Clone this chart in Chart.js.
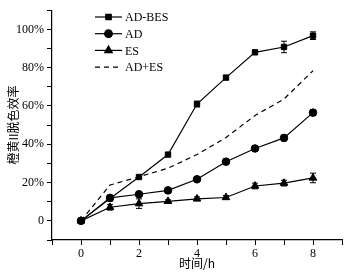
<!DOCTYPE html>
<html>
<head>
<meta charset="utf-8">
<script src="https://cdn.jsdelivr.net/npm/chart.js@4/dist/chart.umd.min.js"></script>
<style>
	html, body { margin: 0; padding: 0; background: #fff; }
	#wrap { width: 349px; height: 273px; }
</style>
</head>
<body>
<div id="wrap"><canvas id="c"></canvas></div>
<script>
const hours = [0, 1, 2, 3, 4, 5, 6, 7, 8];
const adBes = [0, 11.7, 22.9, 34.6, 61, 74.8, 88, 90.8, 96.7];
const adBesErr = [0.8, 0.8, 0.8, 0.8, 1.5, 1, 1, 3, 2];
const ad = [0, 12, 13.9, 15.9, 21.7, 30.9, 37.8, 43.3, 56.5];
const adErr = [0.8, 0.8, 1, 0.8, 1, 1.5, 1.5, 1.5, 1.5];
const es = [0, 7.1, 9, 10.2, 11.5, 12.2, 18.2, 19.7, 22.4];
const esErr = [0.8, 1.5, 2.5, 0.8, 1, 1, 1.5, 1.5, 2.5];
const adPlusEs = [0, 18.7, 23, 27.5, 34.6, 43.5, 55, 63.6, 78.4];
const yLabels = ['0', '20%', '40%', '60%', '80%', '100%'];

const serif = '"Liberation Serif", "Times New Roman", serif';
const cjk = '"Noto Sans CJK SC", sans-serif';

function pts(vals) {
	return hours.map((h, i) => ({ x: h, y: vals[i] }));
}

// error bars drawn through the scales
const errorBars = {
	id: 'errorBars',
	afterDatasetsDraw(chart) {
		const ctx = chart.ctx;
		const xs = chart.scales.x, ys = chart.scales.y;
		ctx.save();
		ctx.strokeStyle = '#000';
		ctx.lineWidth = 1;
		chart.data.datasets.forEach(ds => {
			if (!ds.err) return;
			ds.data.forEach((p, i) => {
				const x = xs.getPixelForValue(p.x);
				const y1 = ys.getPixelForValue(p.y + ds.err[i]);
				const y2 = ys.getPixelForValue(p.y - ds.err[i]);
				ctx.beginPath();
				ctx.moveTo(x, y1); ctx.lineTo(x, y2);
				ctx.moveTo(x - 3, y1); ctx.lineTo(x + 3, y1);
				ctx.moveTo(x - 3, y2); ctx.lineTo(x + 3, y2);
				ctx.stroke();
			});
		});
		ctx.restore();
	}
};

// legend in the upper left of the plot
const insetLegend = {
	id: 'insetLegend',
	afterDraw(chart) {
		const ctx = chart.ctx;
		const x0 = 95, lineLen = 27, rowH = 16.7, top = 17;
		ctx.save();
		ctx.font = '12px ' + serif;
		ctx.textBaseline = 'middle';
		ctx.fillStyle = '#000';
		chart.data.datasets.forEach((ds, i) => {
			const y = top + i * rowH;
			ctx.strokeStyle = '#000';
			ctx.lineWidth = 1.2;
			ctx.setLineDash(ds.borderDash || []);
			ctx.beginPath();
			ctx.moveTo(x0, y); ctx.lineTo(x0 + lineLen, y);
			ctx.stroke();
			ctx.setLineDash([]);
			if (ds.pointRadius > 0) {
				Chart.helpers.drawPoint(ctx, {
					pointStyle: ds.pointStyle, radius: ds.pointRadius, rotation: 0, borderWidth: 1
				}, x0 + lineLen / 2, y);
				ctx.fill();
			}
			ctx.fillText(ds.label, x0 + lineLen + 3, y + 1);
		});
		ctx.restore();
	}
};

function series(label, vals, err, style, r, dash) {
	return {
		label: label,
		data: pts(vals),
		err: err,
		borderColor: '#000',
		backgroundColor: '#000',
		borderWidth: 1.2,
		borderDash: dash,
		pointStyle: style,
		pointRadius: r,
		pointBorderWidth: 1,
		tension: 0
	};
}

new Chart(document.getElementById('c'), {
	type: 'line',
	data: {
		datasets: [
			series('AD-BES', adBes, adBesErr, 'rect', 3.8, []),
			series('AD', ad, adErr, 'circle', 3.8, []),
			series('ES', es, esErr, 'triangle', 4.4, []),
			series('AD+ES', adPlusEs, null, 'circle', 0, [5, 4])
		]
	},
	options: {
		responsive: true,
		maintainAspectRatio: false,
		animation: false,
		layout: { padding: { top: 5, right: 7, left: 0, bottom: 0 } },
		plugins: { legend: { display: false }, tooltip: { enabled: false } },
		scales: {
			x: {
				type: 'linear',
				min: -1, max: 9,
				afterFit: s => { s.height = 33; },
				border: { color: '#000', width: 1.2 },
				grid: { display: true, drawOnChartArea: false, drawTicks: true, tickLength: 5, color: '#000' },
				ticks: {
					stepSize: 1, color: '#000', padding: 2,
					font: { family: serif, size: 12 },
					maxRotation: 0, autoSkip: false,
					callback: v => (v >= 0 && v <= 8 && v % 2 === 0) ? String(v) : ''
				},
				title: {
					display: true, text: '时间/h', color: '#000', padding: { top: 0, bottom: 2 },
					font: { family: cjk, size: 12 }
				}
			},
			y: {
				min: -10, max: 110,
				afterFit: s => { s.width = 52; },
				border: { color: '#000', width: 1.2 },
				grid: { display: true, drawOnChartArea: false, drawTicks: true, tickLength: 5, color: '#000' },
				ticks: {
					stepSize: 10, color: '#000', padding: 3,
					font: { family: serif, size: 12 },
					autoSkip: false,
					callback: v => (v >= 0 && v % 20 === 0) ? yLabels[v / 20] : ''
				},
				title: {
					display: true, text: '橙黄II脱色效率', color: '#000', padding: { top: 6, bottom: 0 },
					font: { family: cjk, size: 12 }
				}
			}
		}
	},
	plugins: [errorBars, insetLegend]
});
</script>
</body>
</html>
